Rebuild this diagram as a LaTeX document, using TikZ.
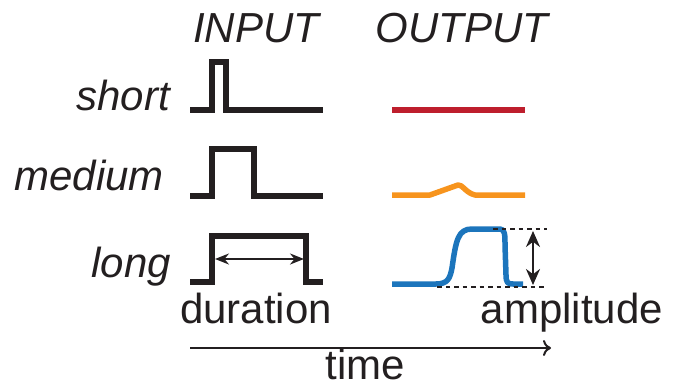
\documentclass[tikz,border=0pt]{standalone}
\usepackage{fontspec}
\setmainfont{Liberation Sans}
\usetikzlibrary{arrows.meta}
\definecolor{sigred}{HTML}{BE1E2D}
\definecolor{sigorange}{HTML}{F7941D}
\definecolor{sigblue}{HTML}{1C75BC}
\definecolor{ink}{HTML}{231F20}
\tikzset{
  lbl/.style={font=\fontsize{42}{48}\selectfont\itshape, text=ink, inner sep=0pt},
  txt/.style={font=\fontsize{42}{48}\selectfont, text=ink, inner sep=0pt},
  pulse/.style={draw=ink, line width=5.5pt, line join=miter},
  outsig/.style={line width=5.5pt, line join=round},
  dbl/.style={draw=ink, line width=2pt, {Stealth[length=14pt,width=11pt]}-{Stealth[length=14pt,width=11pt]}},
  dbltall/.style={draw=ink, line width=2.2pt, {Stealth[length=16pt,width=14pt]}-{Stealth[length=16pt,width=14pt]}},
  dots/.style={draw=ink, line width=2.8pt, dash pattern=on 4.5pt off 4pt}
}
\begin{document}
\begin{tikzpicture}[x=1pt,y=-1pt]
\useasboundingbox (0,0) rectangle (674,388);
% headings
\node[lbl, anchor=base] (hin) at (256,42) {INPUT};
\node[lbl, anchor=base] (hout) at (462,42) {OUTPUT};
% row labels
\node[lbl, anchor=base east] (lshort) at (170,110) {short};
\node[lbl, anchor=base east] (lmed) at (164,190) {medium};
\node[lbl, anchor=base east] (llong) at (171,277) {long};
% input pulses
\draw[pulse] (190,110) -- (212,110) -- (212,62) -- (226,62) -- (226,110) -- (323,110);
\draw[pulse] (190,196) -- (212,196) -- (212,149) -- (254,149) -- (254,196) -- (323,196);
\draw[pulse] (190,282) -- (212,282) -- (212,236) -- (306,236) -- (306,282) -- (323,282);
\coordinate (dl) at (215,259);
\coordinate (dr) at (304,259);
\draw[dbl] (dl) -- (dr);
% outputs
\draw[outsig, sigred] (392,110) -- (525,110);
\draw[outsig, sigorange] (392,195) -- (430,195) -- (458,185)
  .. controls (462,184) and (466,193) .. (475,195) -- (525,195);
\draw[outsig, sigblue] (392,284) -- (436,284)
  .. controls (448,284) and (450,278) .. (452,268)
  .. controls (456,240) and (458,229) .. (472,229)
  -- (500,229)
  .. controls (505,229) and (505,235) .. (505,245)
  -- (506,275)
  .. controls (506,283) and (508,284) .. (513,284)
  -- (523,284);
% amplitude markers
\coordinate (ta) at (493,229);
\coordinate (tb) at (547,229);
\coordinate (ba) at (437,287);
\coordinate (bb) at (547,287);
\draw[dots] (ta) -- (tb);
\draw[dots] (ba) -- (bb);
\coordinate (au) at (533,231);
\coordinate (ad) at (533,285);
\draw[dbltall] (au) -- (ad);
% bottom texts
\node[txt, anchor=base west] (tdur) at (180,323) {duration};
\node[txt, anchor=base east] (tamp) at (663,323) {amplitude};
\coordinate (t0) at (190,348);
\coordinate (t1) at (551,348);
\draw[ink, line width=2pt, -{To[length=8pt,width=16pt]}] (t0) -- (t1);
\node[txt, anchor=base] (ttime) at (365,379) {time};
\end{tikzpicture}
\end{document}
